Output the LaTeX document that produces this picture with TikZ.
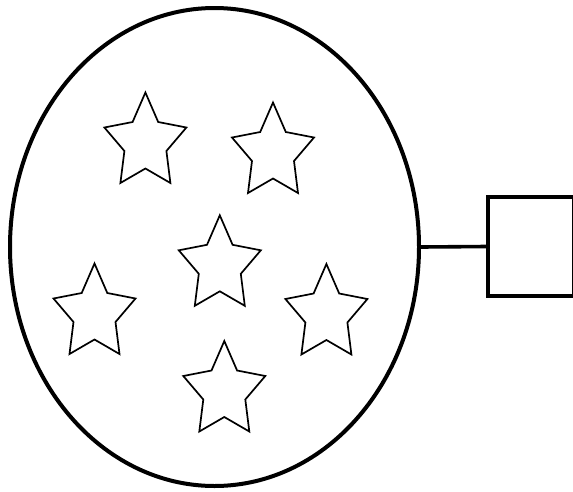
\documentclass[tikz,border=0pt]{standalone}
\usetikzlibrary{shapes.geometric}
\begin{document}
\begin{tikzpicture}[x=1pt, y=-1pt]

      \tikzset{cellwall/.style={draw, ellipse, line width=4pt, inner sep=0pt, minimum width=409pt, minimum height=478pt}}
      \tikzset{boxwall/.style={draw, rectangle, line width=3.6pt, inner sep=0pt, minimum width=86pt, minimum height=99pt}}
      \tikzset{starpic/.pic={\draw[line width=1.7pt, line join=miter] (0,0) -- (12.8,29.5) -- (41,35) -- (21,58.5) -- (25,90.5) -- (0,76) -- (-25,90.5) -- (-21,58.5) -- (-41,35) -- (-12.8,29.5) -- cycle;}}
      \useasboundingbox (0,0) rectangle (573,491);
%% Cell and box
      	\node[cellwall] (cell) at (214.5,247) {};
      	\node[boxwall] (box) at (531,246.5) {};
%% Stars
      	\pic (s1) at (145.4,92.5) {starpic};
      	\pic (s2) at (273,102.5) {starpic};
      	\pic (s3) at (219.8,215.3) {starpic};
      	\pic (s4) at (94.5,263.5) {starpic};
      	\pic (s5) at (326.4,264) {starpic};
      	\pic (s6) at (224.3,341) {starpic};
%Edges
		\path[line width=3.6pt] (cell.east) edge (box.west);

	\end{tikzpicture}
\end{document}
